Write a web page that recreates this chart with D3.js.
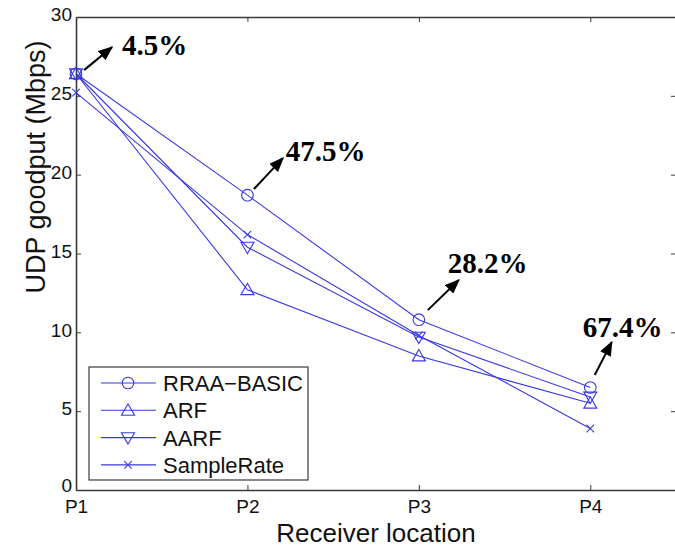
<!DOCTYPE html>
<html>
<head>
<meta charset="utf-8">
<script src="https://cdn.jsdelivr.net/npm/d3@7/dist/d3.min.js"></script>
<style>
  html, body { margin: 0; padding: 0; background: #fff; }
  svg { display: block; }
</style>
</head>
<body>
<div id="chart"></div>
<script>
// ---- data ----
const categories = ["P1", "P2", "P3", "P4"];
const seriesNames = ["RRAA-BASIC", "ARF", "AARF", "SampleRate"];
const rraaBasic = [26.4, 18.7, 10.8, 6.5];
const arf = [26.4, 12.7, 8.5, 5.5];
const aarf = [26.4, 15.4, 9.7, 5.9];
const sampleRate = [25.2, 16.2, 9.8, 3.9];
const markerTypes = ["circle", "up", "down", "cross"];
const yTicks = [0, 5, 10, 15, 20, 25, 30];
// annotations: label, arrow start / tip and label anchor in data units
const annLabels = ["4.5%", "47.5%", "28.2%", "67.4%"];
const annStart = [[1.047, 26.63], [2.038, 19.09], [3.052, 11.41], [4.026, 7.29]];
const annTip = [[1.21, 28.09], [2.207, 21.05], [3.233, 13.32], [4.125, 9.38]];
const annText = [[1.268, 27.58], [2.224, 20.86], [3.169, 13.76], [3.956, 9.70]];

const series = [rraaBasic, arf, aarf, sampleRate];

(function () {
const W = 675, H = 548;
const mLeft = 76, mRight = 676, mTop = 17, mBottom = 490;
const blue = "#3838e2";

const svg = d3.select("#chart").append("svg").attr("width", W).attr("height", H);

const x = d3.scaleLinear().domain([1, 4.5]).range([mLeft, mRight]);
const y = d3.scaleLinear().domain([0, 30]).range([mBottom, mTop]);

svg.append("defs").append("marker")
  .attr("id", "arrowhead").attr("viewBox", "0 0 10 10")
  .attr("refX", 9).attr("refY", 5)
  .attr("markerWidth", 7.5).attr("markerHeight", 6)
  .attr("preserveAspectRatio", "none")
  .attr("markerUnits", "strokeWidth")
  .attr("orient", "auto")
  .append("path").attr("d", "M0,0 L10,5 L0,10 Z").attr("fill", "#000");

const axisColor = "#3a3a3a";
const fontSans = "'Liberation Sans', Arial, Helvetica, sans-serif";

const xAxis = d3.axisBottom(x).tickValues([1, 2, 3, 4]).tickFormat((d, i) => categories[i])
  .tickSizeInner(-5).tickSizeOuter(0).tickPadding(13);
const yAxis = d3.axisLeft(y).tickValues(yTicks).tickFormat(d3.format("d"))
  .tickSizeInner(-5).tickSizeOuter(0).tickPadding(4);

const gx = svg.append("g").attr("transform", `translate(0,${mBottom})`).call(xAxis);
const gy = svg.append("g").attr("transform", `translate(${mLeft},0)`).call(yAxis);
const gxTop = svg.append("g").attr("transform", `translate(0,${mTop})`)
  .call(d3.axisTop(x).tickValues([1, 2, 3, 4]).tickFormat("").tickSizeInner(-5).tickSizeOuter(0));
const gyRight = svg.append("g").attr("transform", `translate(${mRight},0)`)
  .call(d3.axisRight(y).tickValues(yTicks).tickFormat("").tickSizeInner(-5).tickSizeOuter(0));

[gx, gy, gxTop, gyRight].forEach(g => {
  g.select(".domain").attr("stroke", axisColor).attr("stroke-width", 1.6);
  g.selectAll(".tick line").attr("stroke", axisColor).attr("stroke-width", 1);
  g.selectAll(".tick text").attr("fill", "#111").attr("font-family", fontSans).attr("font-size", 19);
});
gx.selectAll(".tick text").attr("dy", "0.55em");
gy.selectAll(".tick text").attr("dy", "0.2em");
gy.selectAll(".tick text").filter(d => d === 0).attr("dy", "0.1em");

svg.append("text").attr("x", (mLeft + mRight) / 2).attr("y", 542)
  .attr("text-anchor", "middle").attr("font-family", fontSans).attr("font-size", 26)
  .attr("fill", "#111").text("Receiver location");
svg.append("text").attr("transform", `translate(45,${(42 + 292) / 2}) rotate(-90)`)
  .attr("text-anchor", "middle").attr("font-family", fontSans).attr("font-size", 27)
  .attr("fill", "#111").text("UDP goodput (Mbps)");

function drawMarker(g, type, cx, cy) {
  if (type === "circle") {
    g.append("circle").attr("cx", cx).attr("cy", cy).attr("r", 5.8)
      .attr("fill", "none").attr("stroke", blue).attr("stroke-width", 1.1);
  } else if (type === "up") {
    const s = 6.5;
    g.append("path").attr("d", `M${cx},${cy - s} L${cx + s},${cy + s * 0.75} L${cx - s},${cy + s * 0.75} Z`)
      .attr("fill", "none").attr("stroke", blue).attr("stroke-width", 1.1);
  } else if (type === "down") {
    const s = 6.5;
    g.append("path").attr("d", `M${cx},${cy + s} L${cx + s},${cy - s * 0.75} L${cx - s},${cy - s * 0.75} Z`)
      .attr("fill", "none").attr("stroke", blue).attr("stroke-width", 1.1);
  } else {
    const s = 3.8;
    g.append("path").attr("d", `M${cx - s},${cy - s} L${cx + s},${cy + s} M${cx - s},${cy + s} L${cx + s},${cy - s}`)
      .attr("fill", "none").attr("stroke", blue).attr("stroke-width", 1.1);
  }
}

const line = d3.line().x((d, i) => x(i + 1)).y(d => y(d));
const plot = svg.append("g");
series.forEach((vals, si) => {
  plot.append("path").datum(vals).attr("d", line)
    .attr("fill", "none").attr("stroke", blue).attr("stroke-width", 1.1);
  vals.forEach((v, i) => drawMarker(plot, markerTypes[si], x(i + 1), y(v)));
});

const fontSerif = "'Liberation Serif', 'Times New Roman', Times, serif";
annLabels.forEach((lab, i) => {
  svg.append("line")
    .attr("x1", x(annStart[i][0])).attr("y1", y(annStart[i][1]))
    .attr("x2", x(annTip[i][0])).attr("y2", y(annTip[i][1]))
    .attr("stroke", "#000").attr("stroke-width", 2)
    .attr("marker-end", "url(#arrowhead)");
  svg.append("text").attr("x", x(annText[i][0])).attr("y", y(annText[i][1]))
    .attr("font-family", fontSerif).attr("font-weight", "bold").attr("font-size", 29)
    .attr("fill", "#000").text(lab);
});

const lg = svg.append("g");
const lgX = 89, lgY = 367, lgW = 219, lgH = 113;
lg.append("rect").attr("x", lgX).attr("y", lgY).attr("width", lgW).attr("height", lgH)
  .attr("fill", "#fff").attr("stroke", axisColor).attr("stroke-width", 1.2);
seriesNames.forEach((name, i) => {
  const cy = lgY + 16 + i * 27.3;
  lg.append("line").attr("x1", lgX + 12).attr("x2", lgX + 67).attr("y1", cy).attr("y2", cy)
    .attr("stroke", blue).attr("stroke-width", 1.1);
  drawMarker(lg, markerTypes[i], lgX + 39, cy);
  lg.append("text").attr("x", lgX + 74).attr("y", cy).attr("dy", "0.36em")
    .attr("font-family", fontSans).attr("font-size", 22).attr("fill", "#111")
    .text(name.replace("-", "\u2212"));
});
})();
</script>
</body>
</html>
